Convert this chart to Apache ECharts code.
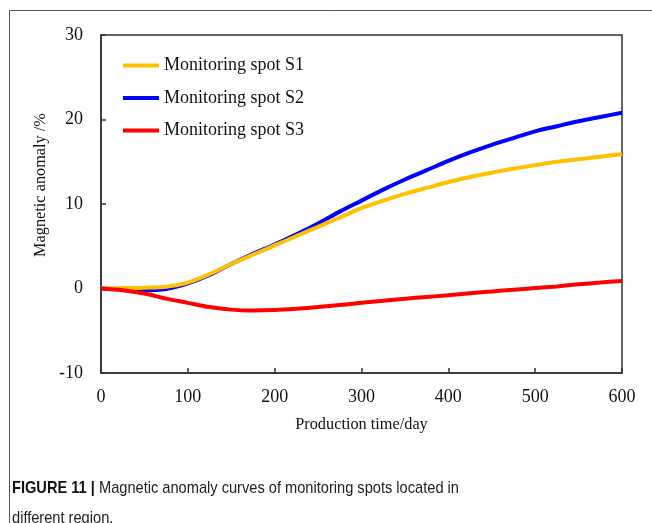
<!DOCTYPE html>
<html>
<head>
<meta charset="utf-8">
<script src="https://cdn.jsdelivr.net/npm/echarts@6/dist/echarts.min.js"></script>
<style>
  html, body { margin: 0; padding: 0; background: #fff; }
  #chart { width: 652px; height: 523px; }
</style>
</head>
<body>
<div id="chart"></div>
<script>
// Production time (days) at which the anomaly was sampled
const days = [0, 25, 50, 75, 100, 125, 150, 175, 200, 225, 250, 275, 300,
              325, 350, 375, 400, 425, 450, 475, 500, 525, 550, 575, 600];

// Magnetic anomaly (%) at each monitoring spot
const spotS1 = [0, 0.05, 0.1, 0.2, 0.7, 1.7, 2.9, 4.0, 5.1, 6.2, 7.3, 8.4, 9.5,
                10.4, 11.2, 11.9, 12.6, 13.2, 13.7, 14.2, 14.6, 15.0, 15.3, 15.6, 15.9];
const spotS2 = [0, -0.1, -0.2, -0.05, 0.6, 1.6, 2.9, 4.1, 5.2, 6.4, 7.7, 9.1, 10.4,
                11.7, 12.9, 14.0, 15.1, 16.1, 17.0, 17.8, 18.6, 19.2, 19.8, 20.3, 20.8];
const spotS3 = [0, -0.2, -0.6, -1.2, -1.7, -2.2, -2.5, -2.6, -2.55, -2.4, -2.2, -1.95, -1.7,
                -1.45, -1.2, -1.0, -0.8, -0.55, -0.35, -0.15, 0.05, 0.25, 0.5, 0.7, 0.9];

const seriesNames = ['Monitoring spot S1', 'Monitoring spot S2', 'Monitoring spot S3'];
const seriesColors = ['#FFC000', '#0000FF', '#FF0000'];

const xTicks = { min: 0, max: 600, interval: 100 };
const yTicks = { min: -10, max: 30, interval: 10 };

const serif = 'Liberation Serif, Times New Roman, serif';
const sans = 'Liberation Sans, Arial, sans-serif';

const pair = (xs, ys) => xs.map((x, i) => [x, ys[i]]);
const values = [spotS1, spotS2, spotS3];

const chart = echarts.init(document.getElementById('chart'), null, { renderer: 'canvas' });

chart.setOption({
  animation: false,
  backgroundColor: '#fff',
  grid: {
    left: 101, top: 35, right: 30, bottom: 150,
    show: true, borderColor: '#333', borderWidth: 1.5, backgroundColor: 'transparent'
  },
  legend: {
    orient: 'vertical',
    left: 118, top: 51.5,
    icon: 'rect',
    itemWidth: 36, itemHeight: 4, itemGap: 14.5,
    textStyle: { fontFamily: serif, fontSize: 18, color: '#111' },
    data: seriesNames
  },
  xAxis: {
    type: 'value',
    min: xTicks.min, max: xTicks.max, interval: xTicks.interval,
    name: 'Production time/day',
    nameLocation: 'middle', nameGap: 44,
    nameTextStyle: { fontFamily: serif, fontSize: 16.3, color: '#111' },
    axisLine: { show: true, onZero: false, lineStyle: { color: '#333', width: 1.5 } },
    axisTick: { show: true, inside: true, length: 5, lineStyle: { color: '#333', width: 1.5 } },
    axisLabel: { fontFamily: serif, fontSize: 18, color: '#111', margin: 15 },
    splitLine: { show: false }
  },
  yAxis: {
    type: 'value',
    min: yTicks.min, max: yTicks.max, interval: yTicks.interval,
    axisLine: { show: true, onZero: false, lineStyle: { color: '#333', width: 1.5 } },
    axisTick: { show: true, inside: true, length: 5, lineStyle: { color: '#333', width: 1.5 } },
    axisLabel: { fontFamily: serif, fontSize: 18, color: '#111', margin: 18 },
    splitLine: { show: false }
  },
  series: seriesNames.map((name, i) => ({
    name,
    type: 'line',
    data: pair(days, values[i]),
    smooth: 0.3,
    symbol: 'none',
    color: seriesColors[i],
    itemStyle: { color: seriesColors[i] },
    lineStyle: { color: seriesColors[i], width: 4 },
    z: i === 2 ? 4 : 3 - i
  })),
  graphic: [
    {
      type: 'text',
      x: 41, y: 185, rotation: Math.PI / 2,
      style: {
        text: 'Magnetic anomaly /%',
        font: '16.3px ' + serif, fill: '#111',
        align: 'center', verticalAlign: 'middle'
      }
    },
    {
      type: 'line',
      shape: { x1: 9.5, y1: 10.5, x2: 652, y2: 10.5 },
      style: { stroke: '#555', lineWidth: 1 }
    },
    {
      type: 'line',
      shape: { x1: 9.5, y1: 10.5, x2: 9.5, y2: 523 },
      style: { stroke: '#555', lineWidth: 1 }
    },
    {
      type: 'text',
      x: 12, y: 473, scaleX: 0.86, scaleY: 1,
      style: {
        text: '{b|FIGURE 11 |} Magnetic anomaly curves of monitoring spots located in\ndifferent region.',
        font: '17px ' + sans, fill: '#222', lineHeight: 30,
        rich: {
          b: { fontWeight: 'bold', fontFamily: sans, fontSize: 17, fill: '#111' }
        }
      }
    }
  ]
});
</script>
</body>
</html>
